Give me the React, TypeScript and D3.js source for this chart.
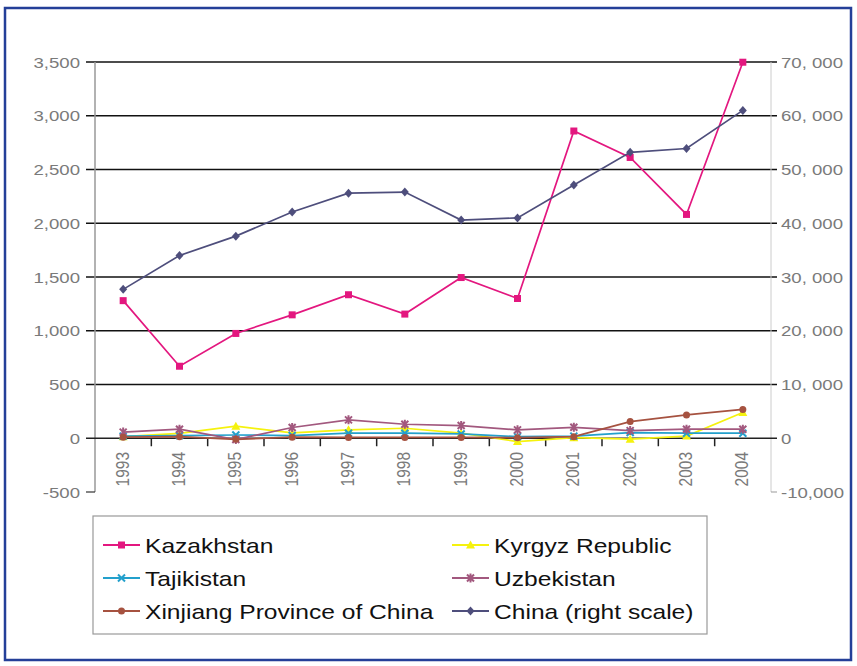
import React from "react";
import * as d3 from "d3";

const years = ["1993","1994","1995","1996","1997","1998","1999","2000","2001","2002","2003","2004"];
const kazakhstan = [1280, 670, 975, 1148, 1335, 1155, 1495, 1300, 2858, 2612, 2082, 3498];
const kyrgyz = [15, 45, 112, 50, 78, 93, 47, -31, 5, -9, 20, 239];
const tajikistan = [20, 25, 30, 25, 47, 47, 40, 15, 20, 53, 47, 47];
const uzbekistan = [57, 84, -12, 100, 171, 130, 118, 78, 102, 71, 84, 84];
const xinjiang = [10, 15, -10, 10, 8, 8, 8, 5, 15, 155, 217, 268];
const china = [27700, 34000, 37600, 42100, 45600, 45800, 40600, 41000, 47100, 53200, 53900, 61000];

const leftTicks = [-500, 0, 500, 1000, 1500, 2000, 2500, 3000, 3500];
const leftTickLabels = ["-500", "0", "500", "1,000", "1,500", "2,000", "2,500", "3,000", "3,500"];
const rightTicks = [-10000, 0, 10000, 20000, 30000, 40000, 50000, 60000, 70000];
const rightTickLabels = ["-10,000", "0", "10, 000", "20, 000", "30, 000", "40, 000", "50, 000", "60, 000", "70, 000"];

type Shape = "square" | "triangle" | "x" | "star" | "circle" | "diamond";
const series: { name: string; values: number[]; color: string; shape: Shape; right?: boolean }[] = [
  { name: "Kazakhstan", values: kazakhstan, color: "#E3177F", shape: "square" },
  { name: "Kyrgyz Republic", values: kyrgyz, color: "#F5F20E", shape: "triangle" },
  { name: "Tajikistan", values: tajikistan, color: "#23A0CC", shape: "x" },
  { name: "Uzbekistan", values: uzbekistan, color: "#A2587E", shape: "star" },
  { name: "Xinjiang Province of China", values: xinjiang, color: "#A65240", shape: "circle" },
  { name: "China (right scale)", values: china, color: "#4E4E7C", shape: "diamond", right: true },
];

const W = 857, H = 666;
const plotL = 95, plotR = 771, plotT = 62, plotB = 492;
const SX = 1.2;
const FONT = "'Liberation Sans', Arial, sans-serif";

function Marker({ shape, x, y, color }: { shape: Shape; x: number; y: number; color: string }) {
  const s = 3.5;
  switch (shape) {
    case "square":
      return <rect x={x - s} y={y - s} width={2 * s} height={2 * s} fill={color} />;
    case "triangle":
      return <path d={`M${x},${y - 4.5}L${x + 4.5},${y + 3.5}L${x - 4.5},${y + 3.5}Z`} fill={color} />;
    case "x":
      return <path d={`M${x - 3.5},${y - 3.5}L${x + 3.5},${y + 3.5}M${x + 3.5},${y - 3.5}L${x - 3.5},${y + 3.5}`} stroke={color} strokeWidth={2} />;
    case "star":
      return <path d={`M${x - 3.5},${y - 3.5}L${x + 3.5},${y + 3.5}M${x + 3.5},${y - 3.5}L${x - 3.5},${y + 3.5}M${x},${y - 4.5}L${x},${y + 4.5}`} stroke={color} strokeWidth={2} />;
    case "circle":
      return <circle cx={x} cy={y} r={3.5} fill={color} />;
    case "diamond":
      return <path d={`M${x},${y - 4.5}L${x + 4},${y}L${x},${y + 4.5}L${x - 4},${y}Z`} fill={color} />;
  }
}

export default function App() {
  const x = d3.scalePoint<string>().domain(years).range([plotL, plotR]).padding(0.5);
  const yL = d3.scaleLinear().domain([-500, 3500]).range([plotB, plotT]);
  const yR = d3.scaleLinear().domain([-10000, 70000]).range([plotB, plotT]);
  const step = x.step();
  const y0 = yL(0);

  const legendRows = [
    [series[0], series[1]],
    [series[2], series[3]],
    [series[4], series[5]],
  ];
  const legendColX = [103, 452];
  const legendRowY = [545, 578, 611];

  return (
    <svg width={W} height={H} style={{ position: "absolute", left: 0, top: 0, background: "#fff" }} fontFamily={FONT}>
      <rect x={5} y={8} width={846} height={652} fill="#fff" stroke="#243f98" strokeWidth={2.5} />
      {leftTicks.filter((t) => t > 0).map((t) => (
        <line key={t} x1={86} x2={777} y1={yL(t)} y2={yL(t)} stroke="#111" strokeWidth={1.5} />
      ))}
      <line x1={plotL} x2={plotL} y1={plotT} y2={plotB} stroke="#999" strokeWidth={1.5} />
      <line x1={plotR} x2={plotR} y1={plotT} y2={plotB} stroke="#ccc" strokeWidth={1} />
      <line x1={86} x2={plotL} y1={yL(-500)} y2={yL(-500)} stroke="#333" strokeWidth={1.2} />
      <line x1={plotR} x2={777} y1={yR(-10000)} y2={yR(-10000)} stroke="#999" strokeWidth={1} />
      <line x1={86} x2={777} y1={y0} y2={y0} stroke="#222" strokeWidth={1.5} />
      {years.slice(1).map((yr) => (
        <line key={yr} x1={(x(yr) as number) - step / 2} x2={(x(yr) as number) - step / 2} y1={y0} y2={y0 + 8} stroke="#222" strokeWidth={1.5} />
      ))}
      {leftTicks.map((t, i) => (
        <text key={t} transform={`translate(80,${yL(t) + 5.5}) scale(${SX},1)`} textAnchor="end" fontSize={15.5} fill="#7a7a7a">
          {leftTickLabels[i]}
        </text>
      ))}
      {rightTicks.map((t, i) => (
        <text key={t} transform={`translate(781,${yR(t) + 5.5}) scale(${SX},1)`} textAnchor="start" fontSize={15.5} fill="#7a7a7a">
          {rightTickLabels[i]}
        </text>
      ))}
      {years.map((yr) => (
        <text key={yr} transform={`translate(${(x(yr) as number) + 5.5},452) scale(${SX},1) rotate(-90)`} textAnchor="end" fontSize={15.5} fill="#7a7a7a">
          {yr}
        </text>
      ))}
      {series.map((s) => {
        const ys = s.right ? yR : yL;
        const line = d3.line<number>().x((_, i) => x(years[i]) as number).y((v) => ys(v));
        return (
          <g key={s.name}>
            <path d={line(s.values) ?? ""} fill="none" stroke={s.color} strokeWidth={1.7} />
            {s.values.map((v, i) => (
              <Marker key={i} shape={s.shape} x={x(years[i]) as number} y={ys(v)} color={s.color} />
            ))}
          </g>
        );
      })}
      <rect x={93} y={516} width={614} height={118} fill="#fff" stroke="#999" strokeWidth={1.2} />
      {legendRows.map((row, ri) =>
        row.map((s, ci) => {
          const lx = legendColX[ci];
          const ly = legendRowY[ri];
          return (
            <g key={s.name}>
              <line x1={lx} x2={lx + 37} y1={ly} y2={ly} stroke={s.color} strokeWidth={1.8} />
              <Marker shape={s.shape} x={lx + 18.5} y={ly} color={s.color} />
              <text transform={`translate(${lx + 42},${ly + 7.5}) scale(${SX},1)`} fontSize={20.5} fill="#111">
                {s.name}
              </text>
            </g>
          );
        })
      )}
    </svg>
  );
}
